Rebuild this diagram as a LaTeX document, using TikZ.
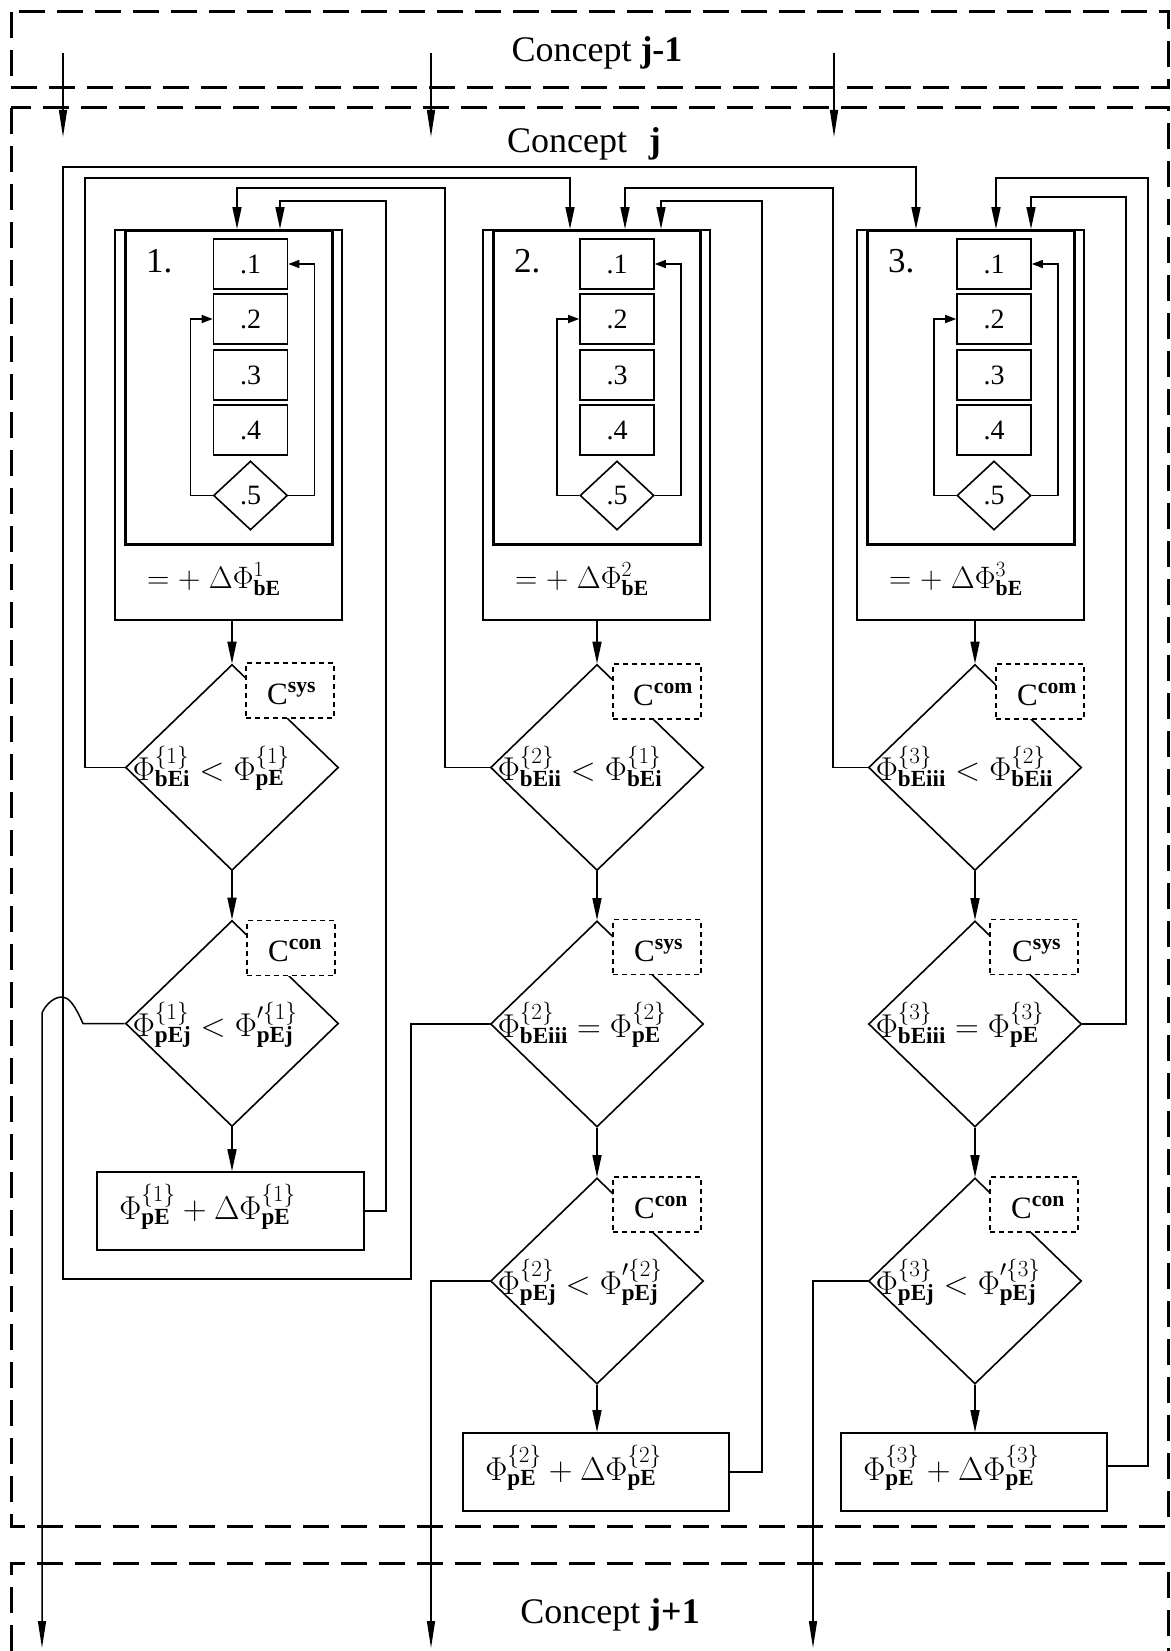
\RequirePackage{fix-cm}
\documentclass[tikz,border=0pt]{standalone}
\usepackage{fontspec}
\setmainfont{Liberation Serif}
\usetikzlibrary{arrows.meta,shapes.geometric}
\begin{document}
\begin{tikzpicture}[x=1pt,y=-1pt,
  arr/.style={line width=1.6pt,-{Triangle[length=22pt,width=9pt]}},
  sarr/.style={line width=1.5pt,-{Triangle[length=11pt,width=8pt]}},
  carr/.style={line width=1.5pt,-{Triangle[length=27pt,width=8pt]}},
  concept/.style={line width=3pt,dash pattern=on 26pt off 12pt},
  obox/.style={draw,line width=1.8pt,minimum width=227pt,minimum height=390pt,inner sep=0pt,anchor=north west},
  ibox/.style={draw,line width=2.8pt,minimum width=207pt,minimum height=314pt,inner sep=0pt,anchor=north west},
  sbox/.style={draw,line width=1.6pt,minimum width=74pt,minimum height=50pt,inner sep=0pt,font=\fontsize{28}{30}\selectfont},
  sdia/.style={draw,diamond,line width=1.6pt,minimum width=74pt,minimum height=69pt,inner sep=0pt,font=\fontsize{28}{30}\selectfont},
  bdia/.style={draw,diamond,line width=1.6pt,minimum width=213pt,minimum height=206pt,inner sep=0pt},
  fbox/.style={draw,line width=1.6pt,minimum width=266pt,minimum height=78pt,inner sep=0pt},
  cbox/.style={draw,fill=white,line width=1.3pt,dash pattern=on 5pt off 4pt,minimum width=88pt,minimum height=55pt,inner sep=0pt},
  ftext/.style={font=\fontsize{33}{38}\selectfont,inner sep=0pt,anchor=base west},
  ktext/.style={font=\fontsize{31}{36}\selectfont,inner sep=0pt,anchor=base west},
  ctext/.style={font=\fontsize{36}{40}\selectfont,inner sep=0pt,anchor=base},
  numtext/.style={font=\fontsize{35}{40}\selectfont,inner sep=0pt,anchor=base west},
]
\useasboundingbox (0,0) rectangle (1170,1651);

% concept frames
\draw[concept] (11,12) rectangle (1168,88);
\draw[concept] (11,108) rectangle (1168,1526);
\draw[concept] (11,1651) -- (11,1563) -- (1168,1563) -- (1168,1651);
\node[ctext] (cjm) at (597,62) {Concept \textbf{j-1}};
\node[ctext] (cj) at (584,152) {Concept\hspace{0.6em}\textbf{j}};
\node[ctext] (cjp) at (610,1623) {Concept \textbf{j+1}};

% arrows from concept j-1
\coordinate (u1) at (63,53);  \coordinate (v1) at (63,137);
\coordinate (u2) at (431,53); \coordinate (v2) at (431,137);
\coordinate (u3) at (834,53); \coordinate (v3) at (834,137);
\draw[carr] (u1) -- (v1);
\draw[carr] (u2) -- (v2);
\draw[carr] (u3) -- (v3);

% the three procedure boxes
\foreach \col/\ox/\bx in {1/114/250.5, 2/482/617, 3/856/994}{
  \node[obox] (o\col) at (\ox,229) {};
  \node[ibox] (i\col) at (\ox+10,229) {};
  \node[numtext] (n\col) at (\ox+32,272) {\col.};
  \node[sbox] (s\col-1) at (\bx,264) {.1};
  \node[sbox] (s\col-2) at (\bx,319) {.2};
  \node[sbox] (s\col-3) at (\bx,375) {.3};
  \node[sbox] (s\col-4) at (\bx,430) {.4};
  \node[sdia] (s\col-5) at (\bx,495.5) {.5};
  \draw[sarr] (s\col-5.east) -- ++(26,0) |- (s\col-1.east);
  \draw[sarr] (s\col-5.west) -- ++(-22,0) |- (s\col-2.west);
  \node[ktext] (l\col) at (\ox+33,588) {${=}\;{+}\;\Delta\Phi^{\col}_{\mathbf{bE}}$};
}

% decision diamonds
\node[bdia] (d1a) at (232,767.5) {};
\node[bdia] (d1b) at (232,1023.5) {};
\node[bdia] (d2a) at (597,767.5) {};
\node[bdia] (d2b) at (597,1024) {};
\node[bdia] (d2c) at (597,1281) {};
\node[bdia] (d3a) at (975,767.5) {};
\node[bdia] (d3b) at (975,1024) {};
\node[bdia] (d3c) at (975,1281) {};

\node[ftext] (t1a) at ([xshift=8pt,yshift=-13pt]d1a.west) {$\Phi^{\{1\}}_{\mathbf{bEi}} < \Phi^{\{1\}}_{\mathbf{pE}}$};
\node[ftext] (t1b) at ([xshift=8pt,yshift=-13pt]d1b.west) {$\Phi^{\{1\}}_{\mathbf{pEj}} < \Phi'^{\{1\}}_{\mathbf{pEj}}$};
\node[ftext] (t2a) at ([xshift=8pt,yshift=-13pt]d2a.west) {$\Phi^{\{2\}}_{\mathbf{bEii}} < \Phi^{\{1\}}_{\mathbf{bEi}}$};
\node[ftext] (t2b) at ([xshift=8pt,yshift=-13pt]d2b.west) {$\Phi^{\{2\}}_{\mathbf{bEiii}} = \Phi^{\{2\}}_{\mathbf{pE}}$};
\node[ftext] (t2c) at ([xshift=8pt,yshift=-13pt]d2c.west) {$\Phi^{\{2\}}_{\mathbf{pEj}} < \Phi'^{\{2\}}_{\mathbf{pEj}}$};
\node[ftext] (t3a) at ([xshift=8pt,yshift=-13pt]d3a.west) {$\Phi^{\{3\}}_{\mathbf{bEiii}} < \Phi^{\{2\}}_{\mathbf{bEii}}$};
\node[ftext] (t3b) at ([xshift=8pt,yshift=-13pt]d3b.west) {$\Phi^{\{3\}}_{\mathbf{bEiii}} = \Phi^{\{3\}}_{\mathbf{pE}}$};
\node[ftext] (t3c) at ([xshift=8pt,yshift=-13pt]d3c.west) {$\Phi^{\{3\}}_{\mathbf{pEj}} < \Phi'^{\{3\}}_{\mathbf{pEj}}$};

% criteria boxes
\node[cbox] (c1a) at (290,690.5) {};
\node[cbox] (c1b) at (291,948) {};
\node[cbox] (c2a) at (657,691.5) {};
\node[cbox] (c2b) at (657,947) {};
\node[cbox] (c2c) at (657,1204.5) {};
\node[cbox] (c3a) at (1040,691.5) {};
\node[cbox] (c3b) at (1034,947) {};
\node[cbox] (c3c) at (1034,1204.5) {};
\node[ktext] (k1a) at (267,704) {$\mathrm{C}^{\mathbf{sys}}$};
\node[ktext] (k1b) at (268,961) {$\mathrm{C}^{\mathbf{con}}$};
\node[ktext] (k2a) at (633,705) {$\mathrm{C}^{\mathbf{com}}$};
\node[ktext] (k2b) at (634,961) {$\mathrm{C}^{\mathbf{sys}}$};
\node[ktext] (k2c) at (634,1218) {$\mathrm{C}^{\mathbf{con}}$};
\node[ktext] (k3a) at (1017,705) {$\mathrm{C}^{\mathbf{com}}$};
\node[ktext] (k3b) at (1012,961) {$\mathrm{C}^{\mathbf{sys}}$};
\node[ktext] (k3c) at (1011,1218) {$\mathrm{C}^{\mathbf{con}}$};

% final boxes
\node[fbox,minimum width=267pt] (f1) at (230.5,1211) {};
\node[fbox] (f2) at (596,1472) {};
\node[fbox] (f3) at (974,1472) {};
\node[ftext] (tf1) at ([xshift=23pt,yshift=-8pt]f1.west) {$\Phi^{\{1\}}_{\mathbf{pE}} + \Delta\Phi^{\{1\}}_{\mathbf{pE}}$};
\node[ftext] (tf2) at ([xshift=23pt,yshift=-8pt]f2.west) {$\Phi^{\{2\}}_{\mathbf{pE}} + \Delta\Phi^{\{2\}}_{\mathbf{pE}}$};
\node[ftext] (tf3) at ([xshift=23pt,yshift=-8pt]f3.west) {$\Phi^{\{3\}}_{\mathbf{pE}} + \Delta\Phi^{\{3\}}_{\mathbf{pE}}$};

% vertical flow
\draw[arr] (d1a.north |- o1.south) -- (d1a.north);
\draw[arr] (d1a.south) -- (d1b.north);
\draw[arr] (d1b.south) -- (d1b.south |- f1.north);
\draw[arr] (d2a.north |- o2.south) -- (d2a.north);
\draw[arr] (d2a.south) -- (d2b.north);
\draw[arr] (d2b.south) -- (d2c.north);
\draw[arr] (d2c.south) -- (d2c.south |- f2.north);
\draw[arr] (d3a.north |- o3.south) -- (d3a.north);
\draw[arr] (d3a.south) -- (d3b.north);
\draw[arr] (d3b.south) -- (d3c.north);
\draw[arr] (d3c.south) -- (d3c.south |- f3.north);

% entry points on top of boxes
\coordinate (e1a) at (237,229);
\coordinate (e1b) at (280,229);
\coordinate (e2a) at (570,229);
\coordinate (e2b) at (625,229);
\coordinate (e2c) at (661,229);
\coordinate (e3a) at (916,229);
\coordinate (e3b) at (996,229);
\coordinate (e3c) at (1031,229);
% exits to concept j+1
\coordinate (x1) at (42,1648);
\coordinate (x2) at (431,1648);
\coordinate (x3) at (813,1648);

% feedback connectors
\draw[arr] (d1a.west) -| (85,178) -| (e2a);
\draw[arr] (d2a.west) -| (445,188) -| (e1a);
\draw[arr] (f1.east) -| (386,201) -| (e1b);
\draw[arr] (d3a.west) -| (833,188) -| (e2b);
\draw[arr] (f2.east) -| (762,201) -| (e2c);
\draw[arr] ([yshift=6pt]f3.east) -| (1148,178) -| (e3b);
\draw[arr] (d3b.east) -| (1126,197) -| (e3c);
\draw[arr] (d2b.west) -| (411,1279) -| (63,167) -| (e3a);

% exits
\draw[carr] (d1b.west) -- (83,1023.5) .. controls (74,1003) and (68,997) .. (62,997) .. controls (54,997) and (46,1004) .. (42,1013) -- (x1);
\draw[carr] (d2c.west) -| (x2);
\draw[carr] (d3c.west) -| (x3);
\end{tikzpicture}
\end{document}
